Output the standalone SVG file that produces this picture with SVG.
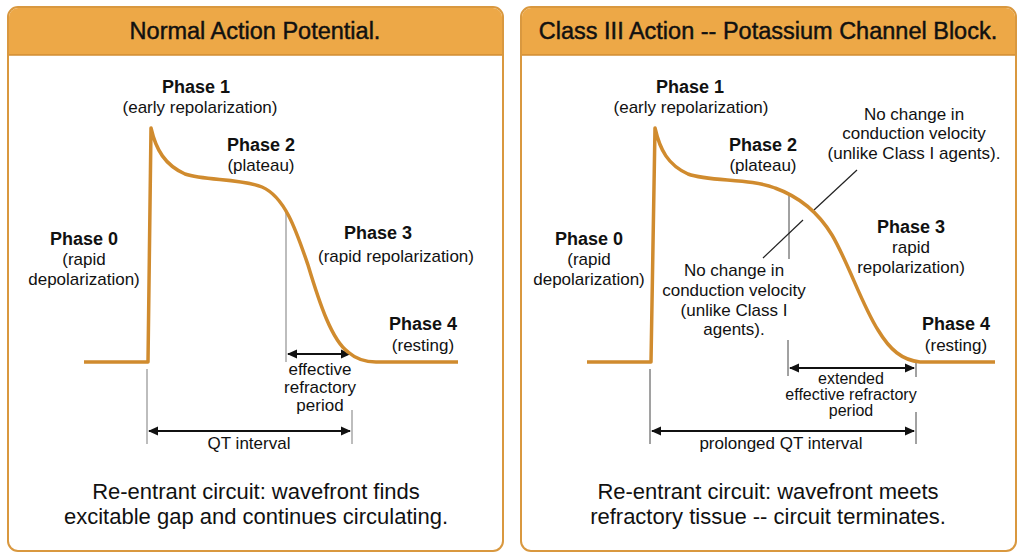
<svg xmlns="http://www.w3.org/2000/svg" width="1024" height="559" viewBox="0 0 1024 559">
<defs>
<marker id="ah" viewBox="0 0 10 10" refX="9" refY="5" markerWidth="10" markerHeight="10" markerUnits="userSpaceOnUse" orient="auto-start-reverse">
<path d="M0,0.5 L10,5 L0,9.5 Z" fill="#111"/>
</marker>
<style>
.panel{fill:#FFFFFF;stroke:#D9983F;stroke-width:2}
.hdr{fill:#EDA847}
.hline{stroke:#D08C32;stroke-width:1.5}
.title{font-family:"Liberation Sans",Arial,sans-serif;font-size:23.5px;fill:#111;stroke:#111;stroke-width:0.45;text-anchor:middle}
.ph{font-family:"Liberation Sans",Arial,sans-serif;font-size:18px;font-weight:bold;fill:#111;text-anchor:middle}
.t{font-family:"Liberation Sans",Arial,sans-serif;font-size:17px;fill:#111;text-anchor:middle}
.s{font-family:"Liberation Sans",Arial,sans-serif;font-size:16px;fill:#111;text-anchor:middle}
.big{font-family:"Liberation Sans",Arial,sans-serif;font-size:22px;fill:#111;text-anchor:middle}
.ap{fill:none;stroke:#D08B2E;stroke-width:3.5;stroke-linejoin:round}
.tickL{stroke:#9A9A9A;stroke-width:1.3}
.tickR{stroke:#444;stroke-width:1}
.arr{stroke:#111;stroke-width:2;marker-start:url(#ah);marker-end:url(#ah)}
.lead{stroke:#222;stroke-width:1.2}
</style>
</defs>
<rect width="1024" height="559" fill="#FFFFFF"/>

<g id="panel-normal">
<rect class="panel" x="8" y="7" width="495" height="544" rx="10"/>
<path class="hdr" d="M9,55 V17 A9,9 0 0 1 18,8 H493 A9,9 0 0 1 502,17 V55 Z"/>
<line class="hline" x1="9" y1="55" x2="502" y2="55"/>
<text class="title" x="255" y="39">Normal Action Potential.</text>
</g>

<g id="panel-class3">
<rect class="panel" x="521" y="7" width="495" height="544" rx="10"/>
<path class="hdr" d="M522,55 V17 A9,9 0 0 1 531,8 H1006 A9,9 0 0 1 1015,17 V55 Z"/>
<line class="hline" x1="522" y1="55" x2="1015" y2="55"/>
<text class="title" x="768" y="39">Class III Action -- Potassium Channel Block.</text>
</g>

<g id="connectors">
<line class="tickL" x1="286" y1="210" x2="286" y2="362"/>
<line class="tickL" x1="147" y1="369" x2="147" y2="444"/>
<line class="tickL" x1="352" y1="410" x2="352" y2="444"/>
<line class="arr" x1="288" y1="354" x2="350" y2="354"/>
<line class="arr" x1="149" y1="431" x2="350" y2="431"/>
<line class="tickR" x1="789" y1="195" x2="789" y2="259"/>
<line class="lead" x1="857" y1="170" x2="814" y2="210"/>
<line class="lead" x1="803" y1="220" x2="763" y2="258"/>
<line class="tickR" x1="788" y1="340" x2="788" y2="376"/>
<line class="tickR" x1="916" y1="361" x2="916" y2="377"/>
<line class="arr" x1="790" y1="368" x2="914" y2="368"/>
<line class="tickR" x1="650" y1="369" x2="650" y2="444"/>
<line class="tickR" x1="916" y1="412" x2="916" y2="444"/>
<line class="arr" x1="652" y1="431" x2="914" y2="431"/>
</g>

<g id="curve-normal">
<path class="ap" d="M84,362 H148 L151,128 C156,150 165,165 185,174 C205,181 240,178 262,187 C285,197 296,230 308,265 C320,305 332,340 348,352 C356,359 364,362 376,362 H458"/>
</g>

<g id="curve-class3">
<path class="ap" d="M587,362 H651 L655,128 C660,150 668,165 688,174 C710,182 750,178 775,188 C800,197 818,212 832,235 C848,262 862,305 878,330 C890,350 902,360 920,362 H995"/>
</g>

<g id="labels-normal">
<text class="ph" x="196" y="93">Phase 1</text>
<text class="t" x="200" y="113">(early repolarization)</text>
<text class="ph" x="261" y="151">Phase 2</text>
<text class="t" x="261" y="171">(plateau)</text>
<text class="ph" x="84" y="245">Phase 0</text>
<text class="t" x="84" y="265">(rapid</text>
<text class="t" x="84" y="285">depolarization)</text>
<text class="ph" x="378" y="239">Phase 3</text>
<text class="t" x="396" y="262">(rapid repolarization)</text>
<text class="ph" x="423" y="330">Phase 4</text>
<text class="t" x="423" y="351">(resting)</text>
<text class="t" x="320" y="375">effective</text>
<text class="t" x="320" y="393">refractory</text>
<text class="t" x="320" y="411">period</text>
<text class="t" x="249" y="449">QT interval</text>
<text class="big" x="256" y="499">Re-entrant circuit: wavefront finds</text>
<text class="big" x="256" y="524">excitable gap and continues circulating.</text>
</g>

<g id="labels-class3">
<text class="ph" x="690" y="93">Phase 1</text>
<text class="t" x="691" y="113">(early repolarization)</text>
<text class="ph" x="763" y="151">Phase 2</text>
<text class="t" x="763" y="171">(plateau)</text>
<text class="t" x="914" y="120">No change in</text>
<text class="t" x="914" y="139">conduction velocity</text>
<text class="t" x="914" y="159">(unlike Class I agents).</text>
<text class="ph" x="589" y="245">Phase 0</text>
<text class="t" x="589" y="265">(rapid</text>
<text class="t" x="589" y="285">depolarization)</text>
<text class="ph" x="911" y="233">Phase 3</text>
<text class="t" x="911" y="253">rapid</text>
<text class="t" x="911" y="273">repolarization)</text>
<text class="t" x="734" y="276">No change in</text>
<text class="t" x="734" y="296">conduction velocity</text>
<text class="t" x="734" y="316">(unlike Class I</text>
<text class="t" x="734" y="335">agents).</text>
<text class="ph" x="956" y="330">Phase 4</text>
<text class="t" x="956" y="351">(resting)</text>
<text class="s" x="851" y="384">extended</text>
<text class="s" x="851" y="400">effective refractory</text>
<text class="s" x="851" y="416">period</text>
<text class="t" x="781" y="449">prolonged QT interval</text>
<text class="big" x="768" y="499">Re-entrant circuit: wavefront meets</text>
<text class="big" x="768" y="524">refractory tissue -- circuit terminates.</text>
</g>
</svg>
